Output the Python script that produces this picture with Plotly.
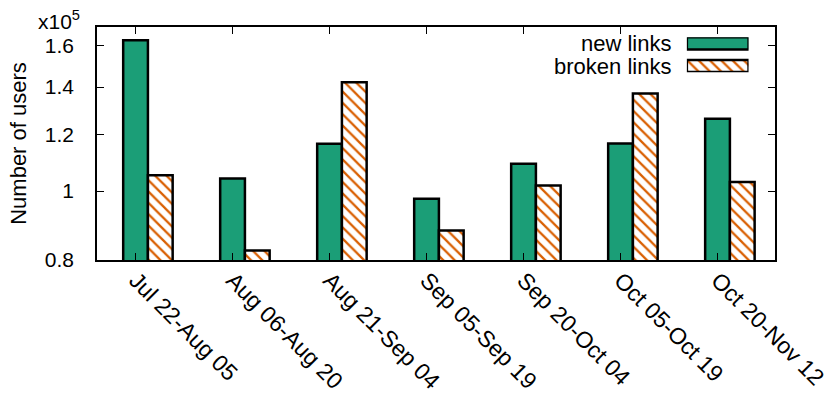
import math
import plotly.graph_objects as go

# data (users per two-week period)
periods = ["Jul 22-Aug 05", "Aug 06-Aug 20", "Aug 21-Sep 04", "Sep 05-Sep 19",
           "Sep 20-Oct 04", "Oct 05-Oct 19", "Oct 20-Nov 12"]
new_links = [162900, 104100, 116500, 97500, 109200, 116600, 126300]
broken_links = [105200, 82500, 142200, 88000, 101800, 137100, 103000]

y_ticks = [80000, 100000, 120000, 140000, 160000]
y_tick_labels = ["0.8", "1", "1.2", "1.4", "1.6"]
series_names = ["new links", "broken links"]

GREEN = "#1b9e77"
ORANGE = "#d95f02"
FONT = "Liberation Sans"

x_pos = list(range(len(periods)))
outline = dict(color="black", width=2.5)
hatch = dict(shape="\\", fgcolor=ORANGE, fgopacity=1, bgcolor="white", size=8, solidity=0.28)

fig = go.Figure()

fig.add_trace(go.Bar(
    x=x_pos, y=new_links, name=series_names[0],
    width=0.255, offset=-0.13,
    marker=dict(color=GREEN, line=outline),
    showlegend=False,
))
fig.add_trace(go.Bar(
    x=x_pos, y=broken_links, name=series_names[1],
    width=0.255, offset=0.125,
    marker=dict(color="white", pattern=hatch, line=outline),
    showlegend=False,
))

# gnuplot-style legend: text on the left, wide key box on the right
key_rows = [1, 0]
fig.add_trace(go.Bar(
    x=[1], y=[key_rows[0]], orientation="h", width=0.53, base=0,
    marker=dict(color=GREEN, line=outline),
    xaxis="x2", yaxis="y2", showlegend=False, hoverinfo="skip",
))
fig.add_trace(go.Bar(
    x=[1], y=[key_rows[1]], orientation="h", width=0.53, base=0,
    marker=dict(color="white", pattern=hatch, line=outline),
    xaxis="x2", yaxis="y2", showlegend=False, hoverinfo="skip",
))

for name, yp in zip(series_names, [0.928, 0.830]):
    fig.add_annotation(
        text=name, xref="paper", yref="paper", x=0.850, y=yp,
        xanchor="right", yanchor="middle", showarrow=False,
        font=dict(family=FONT, size=22, color="black"),
    )

# exponent note above the y tick labels
fig.add_annotation(
    text="x10<sup>5</sup>", xref="paper", yref="paper", x=-0.022, y=1.028,
    xanchor="right", yanchor="middle", showarrow=False,
    font=dict(family=FONT, size=21, color="black"),
)

fig.update_layout(
    width=830, height=408,
    margin=dict(l=97, r=55, t=27, b=148),
    paper_bgcolor="white", plot_bgcolor="white",
    barmode="overlay",
    font=dict(family=FONT, size=21, color="black"),
    xaxis=dict(
        tickmode="array", tickvals=x_pos, ticktext=periods, tickangle=45,
        range=[-0.40, 6.59], showgrid=False, zeroline=False,
        showline=True, linecolor="black", linewidth=1.5, mirror="ticks",
        ticks="inside", ticklen=7, tickcolor="black", ticklabelstandoff=-4,
        tickfont=dict(size=23), automargin=False,
    ),
    yaxis=dict(
        type="log", range=[math.log10(80000), math.log10(170000)],
        tickmode="array", tickvals=y_ticks, ticktext=y_tick_labels,
        showgrid=False, zeroline=False, automargin=False,
        showline=True, linecolor="black", linewidth=1.5, mirror="ticks",
        ticks="inside", ticklen=7, tickcolor="black", ticklabelstandoff=17,
        tickfont=dict(size=21),
        title=dict(text="Number of users", standoff=12, font=dict(size=22)),
    ),
    xaxis2=dict(domain=[0.870, 0.961], range=[0, 1], visible=False, anchor="y2"),
    yaxis2=dict(domain=[0.806, 0.956], range=[-0.27, 1.27], visible=False, anchor="x2"),
)

fig.write_html("out.html", config={"displayModeBar": False},
               post_script="document.body.style.margin='0';")
